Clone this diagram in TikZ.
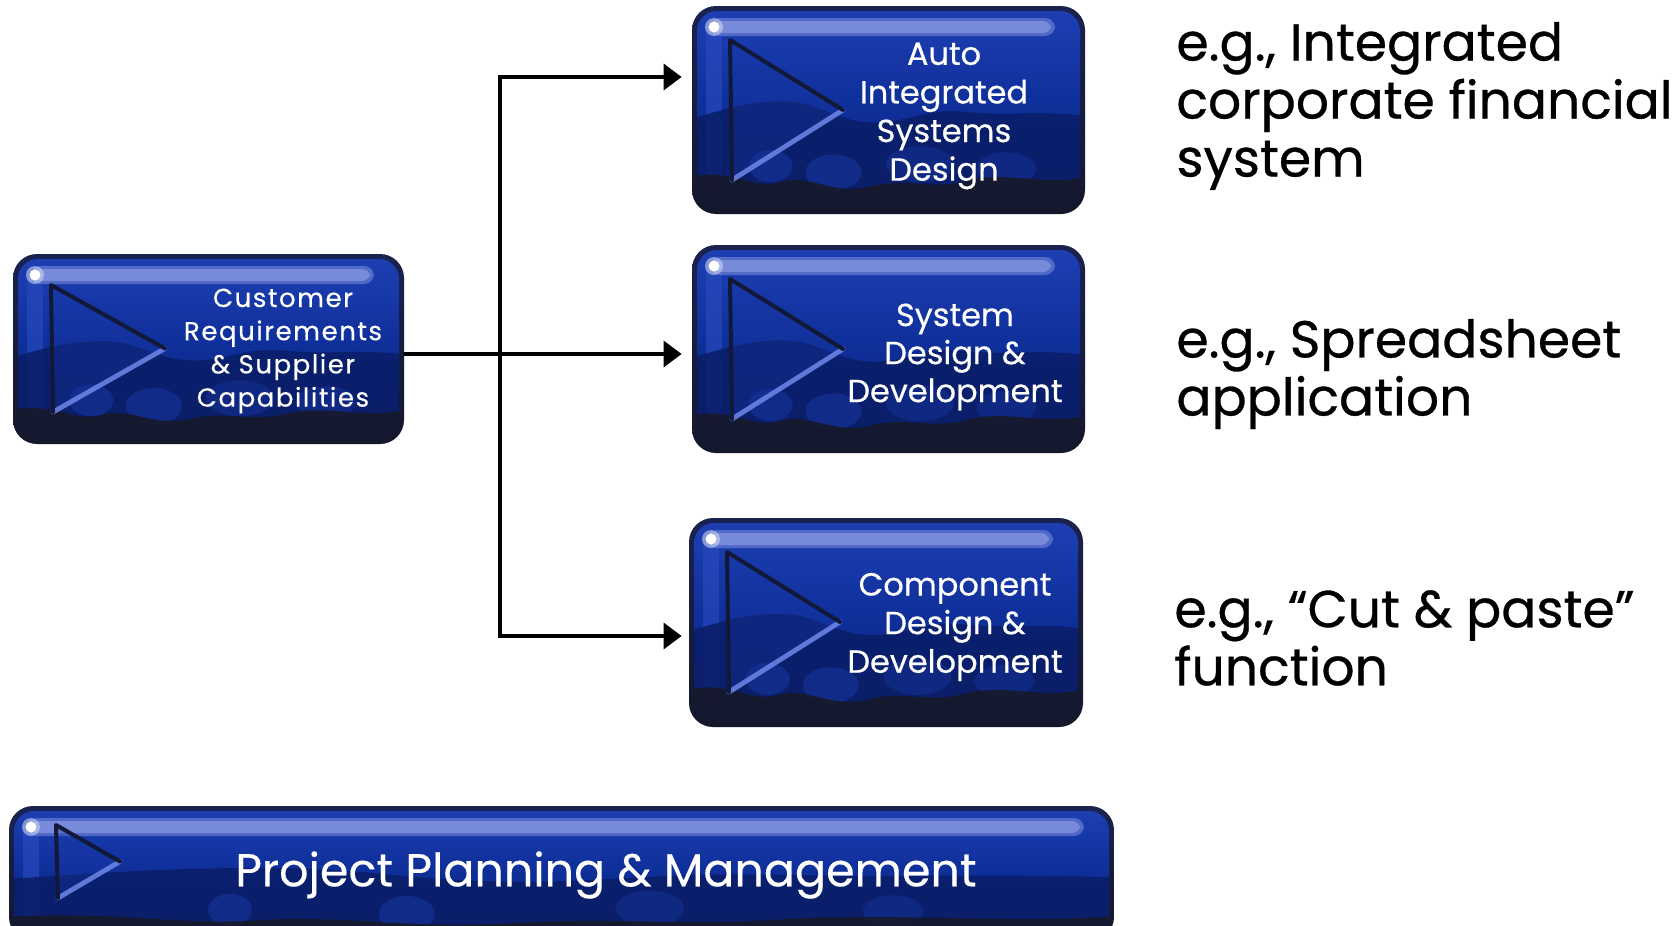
\documentclass[tikz,border=0pt]{standalone}
\usepackage{fontspec}
\setmainfont{Poppins}
\usetikzlibrary{arrows.meta}
\definecolor{rim}{HTML}{1A2250}
\definecolor{rimlow}{HTML}{15172A}
\definecolor{bluetop}{HTML}{1E40B4}
\definecolor{bluemid}{HTML}{0E2E98}
\definecolor{bluelow}{HTML}{0B2378}
\definecolor{wave}{HTML}{0A1D66}
\definecolor{deep}{HTML}{17192C}
\definecolor{blob}{HTML}{1838A6}
\definecolor{hilite}{HTML}{7F90DE}
\definecolor{triedge}{HTML}{6A82E4}
\definecolor{tridark}{HTML}{111838}
\definecolor{strip}{HTML}{2A4CC0}
\tikzset{
  boxnode/.style={draw=none, inner sep=0pt, rectangle},
  boxtext/.style={text=white, align=center, inner sep=0pt},
  conn/.style={line width=1.75pt, draw=black, line join=miter},
  arr/.style={conn, -{Triangle[length=9pt,width=13pt]}},
  side/.style={text=black, align=left, anchor=west, inner sep=0pt, font=\fontsize{26pt}{29pt}\selectfont\addfontfeature{FakeBold=0.6}},
}
% #1 name, #2 x, #3 y, #4 W, #5 H, #6 tri top, #7 tri bottom, #8 tip x, #9 tri left
\newcommand\gbox[9]{%
  \begin{scope}[shift={(#2,#3)}]
    \pgfmathsetmacro\bw{#4}\pgfmathsetmacro\bh{#5}%
    \pgfmathsetmacro\tipy{(#6+#7)/2}%
    \shade[top color=rim, bottom color=rimlow, rounded corners=12pt] (0,0) rectangle (\bw,\bh);
    \node[boxnode, minimum width=#4*0.5pt, minimum height=#5*0.5pt] (#1) at (\bw/2,\bh/2) {};
    \begin{scope}
      \clip[rounded corners=10pt] (5,5) rectangle (\bw-5,\bh-7);
      \shade[top color=bluetop, bottom color=bluelow, middle color=bluemid] (0,0) rectangle (\bw,\bh);
      \fill[strip, opacity=0.6] (14,24) rectangle (30,\bh-22);
      \fill[wave, opacity=0.85] (0,0.54*\bh) .. controls (0.08*\bw,0.50*\bh) and (0.15*\bw,0.45*\bh) .. (0.25*\bw,0.46*\bh)
        .. controls (0.33*\bw,0.47*\bh) and (0.38*\bw,0.57*\bh) .. (0.48*\bw,0.56*\bh)
        .. controls (0.56*\bw,0.55*\bh) and (0.6*\bw,0.49*\bh) .. (0.7*\bw,0.51*\bh)
        .. controls (0.8*\bw,0.53*\bh) and (0.9*\bw,0.50*\bh) .. (\bw,0.53*\bh) -- (\bw,\bh) -- (0,\bh) -- cycle;
      \fill[blob, opacity=0.5] (0.20*\bw,0.77*\bh) ellipse (22 and 16);
      \fill[blob, opacity=0.5] (0.36*\bw,0.80*\bh) ellipse (28 and 18);
      \fill[blob, opacity=0.4] (0.58*\bw,0.76*\bh) ellipse (34 and 18);
      \fill[blob, opacity=0.4] (0.80*\bw,0.78*\bh) ellipse (30 and 16);
      \fill[deep, opacity=0.92] (0,0.82*\bh) .. controls (0.1*\bw,0.78*\bh) and (0.15*\bw,0.88*\bh) .. (0.22*\bw,0.85*\bh)
        .. controls (0.3*\bw,0.80*\bh) and (0.35*\bw,0.91*\bh) .. (0.45*\bw,0.87*\bh)
        .. controls (0.55*\bw,0.82*\bh) and (0.6*\bw,0.89*\bh) .. (0.7*\bw,0.84*\bh)
        .. controls (0.8*\bw,0.79*\bh) and (0.9*\bw,0.87*\bh) .. (\bw,0.82*\bh) -- (\bw,\bh) -- (0,\bh) -- cycle;
      \fill[hilite, opacity=0.55, rounded corners=5pt] (18,12) rectangle (\bw-30,30);
      \fill[hilite, opacity=0.85, rounded corners=4pt] (22,15) rectangle (\bw-34,27);
      \fill[white!60!hilite, opacity=0.6] (22,21) circle (9);
      \fill[white] (22,21) circle (5.5);
      % triangle
      \fill[blob, opacity=0.3] (#9,#6) -- (#8,\tipy) -- (#9+2,#7) -- cycle;
      \draw[triedge, line width=2.4pt, line cap=round, opacity=0.9] (#8,\tipy) -- (#9+2,#7);
      \draw[tridark, line width=2pt, line cap=round, line join=round] (#9+2,#7) -- (#9,#6) -- (#8,\tipy);
    \end{scope}
  \end{scope}
}
\begin{document}
\begin{tikzpicture}[x=0.5pt, y=-0.5pt]
  \useasboundingbox (0,0) rectangle (1676,926);
  \clip (0,0) rectangle (1676,926);
  \fill[white] (0,0) rectangle (1676,926);

  \gbox{L}{13}{254}{391}{190}{31}{158}{152}{38}
  \gbox{A}{692}{6}{393}{208}{34}{174}{151}{38}
  \gbox{B}{692}{245}{393}{208}{34}{174}{151}{38}
  \gbox{C}{689}{518}{394}{209}{34}{174}{151}{38}
  \gbox{P}{9}{806}{1105}{135}{19}{92}{111}{47}

  \node[boxtext, font=\fontsize{13pt}{16.6pt}\selectfont\addfontfeature{LetterSpace=6,FakeBold=0.4}] (Lt) at (283,351)
    {Customer\\Requirements\\\& Supplier\\Capabilities};
  \node[boxtext, font=\fontsize{16pt}{19.3pt}\selectfont\addfontfeature{FakeBold=0.4}] (At) at (944,116)
    {Auto\\Integrated\\Systems\\Design};
  \node[boxtext, font=\fontsize{16pt}{19pt}\selectfont\addfontfeature{FakeBold=0.4}] (Bt) at (955,357)
    {System\\Design \&\\Development};
  \node[boxtext, font=\fontsize{16pt}{19.3pt}\selectfont\addfontfeature{FakeBold=0.4}] (Ct) at (955,627)
    {Component\\Design \&\\Development};
  \node[boxtext, font=\fontsize{23pt}{28pt}\selectfont\addfontfeature{FakeBold=0.3}] (Pt) at (606,875)
    {Project Planning \& Management};

  \node[side] (S1) at (1176,106) {e.g., Integrated\\corporate financial\\system};
  \node[side] (S2) at (1176,374) {e.g., Spreadsheet\\application};
  \node[side] (S3) at (1174,638) {e.g., “Cut \& paste”\\function};

  \coordinate (jt) at (500,77);
  \coordinate (jb) at (500,636);
  \draw[arr] (jb) -- (jt) -- ([xshift=-5pt]jt -| A.west);
  \draw[arr] (jt) -- (jb) -- ([xshift=-3.5pt]jb -| C.west);
  \draw[arr] ([yshift=-2.5pt]L.east) -- ([xshift=-5pt,yshift=-2.5pt]B.west);
\end{tikzpicture}
\end{document}
